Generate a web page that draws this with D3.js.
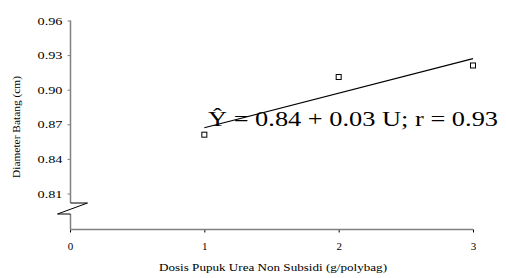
<!DOCTYPE html>
<html>
<head>
<meta charset="utf-8">
<script src="https://cdn.jsdelivr.net/npm/d3@7"></script>
<style>
body{margin:0;background:#fff;}
svg text{font-family:"Liberation Serif",serif;}
</style>
</head>
<body>
<main></main>
<script>
const w=506;
const h=278;

// data
const dosis=[1,2,3];
const diameter=[0.861,0.911,0.921];
const trendX=[1,3];
const trendY=[0.867,0.927];
const yTicks=[0.81,0.84,0.87,0.90,0.93,0.96];
const xTicks=[0,1,2,3];

const serif="Liberation Serif";

const svg=d3.select("main")
            .append("svg")
            .attr("width",w)
            .attr("height",h)
            .attr("font-family",serif);

const xScale=d3.scaleLinear()
               .domain([0,3])
               .range([70,473]);
const yScale=d3.scaleLinear()
               .domain([0.81,0.96])
               .range([193.5,20.5]);

const axisColor="#808080";

// x axis
const xAxis=d3.axisBottom(xScale)
              .tickValues(xTicks)
              .tickSize(3)
              .tickFormat(d3.format("d"));
const gx=svg.append("g")
   .attr("transform","translate(0,229.5)")
   .call(xAxis)
   .attr("font-family",serif);
gx.select(".domain").remove();
gx.append("line").attr("x1",70).attr("x2",473).attr("stroke",axisColor).attr("stroke-width",1.5);
gx.selectAll(".tick line").attr("stroke","#000");
gx.selectAll(".tick text").attr("y",13).attr("font-size",11).attr("fill","#000");

// y axis (broken)
const yAxis=d3.axisLeft(yScale)
              .tickValues(yTicks)
              .tickSize(3)
              .tickFormat(d3.format(".2f"));
const gy=svg.append("g")
   .attr("transform","translate(70.5,0)")
   .call(yAxis)
   .attr("font-family",serif);
gy.select(".domain").remove();
gy.selectAll(".tick line").attr("stroke",axisColor);
gy.selectAll(".tick text").attr("x",-8).attr("font-size",11).attr("fill","#000")
  .attr("textLength",25).attr("lengthAdjust","spacingAndGlyphs");
gy.append("line").attr("y1",yScale(0.96)).attr("y2",203).attr("stroke",axisColor).attr("stroke-width",1.5);
gy.append("line").attr("y1",214).attr("y2",229.5).attr("stroke",axisColor).attr("stroke-width",1.5);
// break symbol
gy.append("path")
  .attr("d","M0,203 H17 L-13,214 H0")
  .attr("fill","none")
  .attr("stroke","#000")
  .attr("stroke-width",1);

// trend line
svg.append("line")
   .attr("x1",xScale(trendX[0])).attr("y1",yScale(trendY[0]))
   .attr("x2",xScale(trendX[1])).attr("y2",yScale(trendY[1]))
   .attr("stroke","#000")
   .attr("stroke-width",1.2);

// data points
svg.selectAll("rect.pt")
   .data(dosis)
   .enter()
   .append("rect")
   .attr("class","pt")
   .attr("x",(d)=>xScale(d)-2.5)
   .attr("y",(d,i)=>yScale(diameter[i])-2.5)
   .attr("width",5)
   .attr("height",5)
   .attr("fill","#fff")
   .attr("stroke","#000")
   .attr("stroke-width",1);

// equation
svg.append("text")
   .attr("x",208)
   .attr("y",126)
   .attr("font-size",22)
   .attr("fill","#000")
   .attr("textLength",290)
   .attr("lengthAdjust","spacingAndGlyphs")
   .text("Ŷ = 0.84 + 0.03 U; r = 0.93");

// axis titles
svg.append("text")
   .attr("transform","translate(20,127) rotate(-90)")
   .attr("text-anchor","middle")
   .attr("font-size",10)
   .attr("textLength",102)
   .attr("lengthAdjust","spacingAndGlyphs")
   .text("Diameter Batang (cm)");
svg.append("text")
   .attr("x",273)
   .attr("y",271)
   .attr("text-anchor","middle")
   .attr("font-size",11)
   .attr("textLength",228)
   .attr("lengthAdjust","spacingAndGlyphs")
   .text("Dosis Pupuk Urea Non Subsidi (g/polybag)");
</script>
</body>
</html>
